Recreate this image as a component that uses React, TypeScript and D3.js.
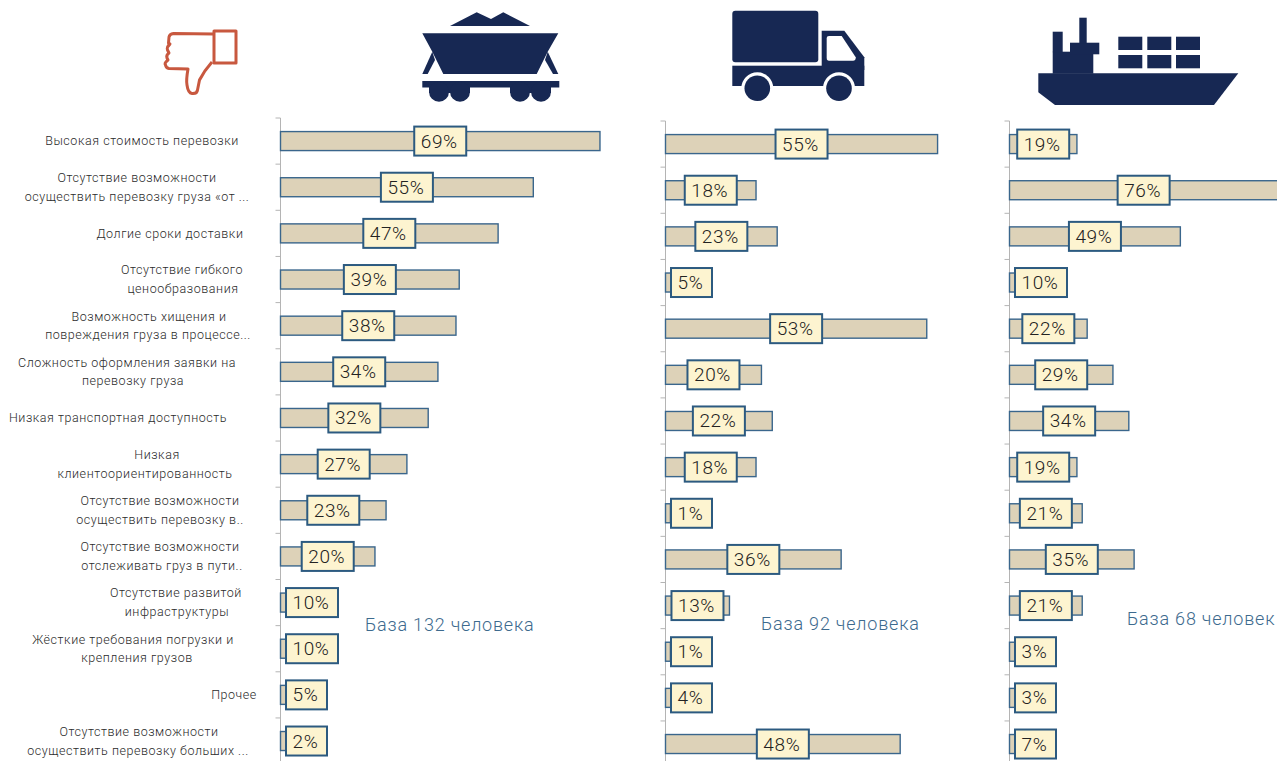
import React from "react";
import * as d3 from "d3";

const reasons: string[][] = [
  ["Высокая стоимость перевозки"],
  ["Отсутствие возможности", "осуществить перевозку груза «от ..."],
  ["Долгие сроки доставки"],
  ["Отсутствие гибкого", "ценообразования"],
  ["Возможность хищения и", "повреждения груза в процессе..."],
  ["Сложность оформления заявки на", "перевозку груза"],
  ["Низкая транспортная доступность"],
  ["Низкая", "клиентоориентированность"],
  ["Отсутствие возможности", "осуществить перевозку в.."],
  ["Отсутствие возможности", "отслеживать груз в пути.."],
  ["Отсутствие развитой", "инфраструктуры"],
  ["Жёсткие требования погрузки и", "крепления грузов"],
  ["Прочее"],
  ["Отсутствие возможности", "осуществить перевозку больших ..."],
];
const reasonCentres: number[][] = [
  [142], [137, 137], [170], [182, 183], [149, 148], [127, 133], [118],
  [157, 145], [160, 160], [160, 162], [176, 177], [133, 137], [234], [139, 138],
];

const railLabels = [69, 55, 47, 39, 38, 34, 32, 27, 23, 20, 10, 10, 5, 2];
const railValues = [69, 54.6, 47, 38.6, 37.9, 34, 31.9, 27.3, 22.8, 20.4, 10, 10, 5, 2];
const roadLabels = [55, 18, 23, 5, 53, 20, 22, 18, 1, 36, 13, 1, 4, 48];
const roadValues = [55.3, 18.4, 22.7, 5, 53.1, 19.5, 21.7, 18.4, 1, 35.7, 13, 1, 4, 47.7];
const seaLabels = [19, 76, 49, 10, 22, 29, 34, 19, 21, 35, 21, 3, 3, 7];
const seaValues = [19.1, 76, 48.4, 10, 22, 29.3, 33.8, 19.1, 20.6, 35.3, 20.6, 3, 3, 7];

const NAVY = "#172853";

type Panel = {
  labels: number[]; values: number[]; axisX: number; perCent: number; top: number;
  base: string; baseX: number; baseY: number;
};
const panels: Panel[] = [
  { labels: railLabels, values: railValues, axisX: 280.5, perCent: 4.63, top: 118, base: "База 132 человека", baseX: 365, baseY: 625 },
  { labels: roadLabels, values: roadValues, axisX: 665.5, perCent: 4.92, top: 121, base: "База 92 человека", baseX: 761, baseY: 624 },
  { labels: seaLabels, values: seaValues, axisX: 1009.5, perCent: 3.53, top: 121, base: "База 68 человек", baseX: 1127, baseY: 619 },
];
const rowStep = 46.15;
const FONT = "Roboto, sans-serif";

function PanelView({ p }: { p: Panel }) {
  const rows = d3.range(p.values.length);
  const y = d3.scaleBand<number>().domain(rows).range([p.top, p.top + rowStep * rows.length]);
  const x = d3.scaleLinear().domain([0, 100]).range([p.axisX, p.axisX + p.perCent * 100]);
  const barH = 19;
  const boxH = 29;
  return (
    <g>
      <line x1={p.axisX} x2={p.axisX} y1={p.top} y2={761} stroke="#b4b4b4" strokeWidth={1} />
      {rows.map((r) => (
        <line key={r} x1={p.axisX - 5} x2={p.axisX} y1={y(r)!} y2={y(r)!} stroke="#b4b4b4" strokeWidth={1} />
      ))}
      {rows.map((r) => {
        const cy = y(r)! + y.bandwidth() / 2;
        return (
          <rect key={r} x={p.axisX} y={cy - barH / 2} width={x(p.values[r]) - p.axisX} height={barH}
            fill="#ddd2b8" stroke="#3a668c" strokeWidth={1.4} />
        );
      })}
      {rows.map((r) => {
        const cy = y(r)! + y.bandwidth() / 2;
        const w = p.labels[r] < 10 ? 41 : 52;
        const mid = (p.axisX + x(p.values[r])) / 2;
        const cx = Math.max(mid, p.axisX + 5.5 + w / 2);
        return (
          <g key={r}>
            <rect x={cx - w / 2} y={cy - boxH / 2} width={w} height={boxH} fill="#fdf4d0" stroke="#2c5a80" strokeWidth={2} />
            <text x={cx - 1} y={cy + 6.5} textAnchor="middle" fontFamily={FONT} fontWeight={300} fontSize={19} letterSpacing={0.6} fill="#222">
              {p.labels[r]}%
            </text>
          </g>
        );
      })}
      <text x={p.baseX} y={p.baseY + 6} fontFamily={FONT} fontWeight={300} fontSize={18} letterSpacing={0.8} fill="#3d6a8e">
        {p.base}
      </text>
    </g>
  );
}

export default function App() {
  const rows = d3.range(reasons.length);
  const y = d3.scaleBand<number>().domain(rows).range([118, 118 + rowStep * rows.length]);
  return (
    <svg width={1277} height={761} style={{ position: "absolute", left: 0, top: 0, background: "#fff" }}>
      {/* thumb down */}
      <g fill="none" stroke="#c8583f" strokeWidth={3} strokeLinejoin="round">
        <path d="M214 34 L173.5 33.5 Q169.5 34 169 37 L168.5 43 L170 44 Q166.5 47 167.5 50 L169 53 Q166 55 167 58 L168 60 Q164 63 165.5 65 Q166 68 169 68.5 L188 69 Q186 80 187 85 Q188 93 192 93.5 Q197 94 197.5 90 L199.5 80 Q204 71 212 62" />
        <rect x={214} y={31} width={22} height={32} />
      </g>
      {/* coal wagon */}
      <g fill={NAVY}>
        <path d="M450 26 L476.7 12.3 L491 19 L503.3 12.3 L530 26 Z" />
        <path d="M422.3 33.3 L558.3 33.3 L547.7 51.7 L536.7 74 L443.3 74 L432.3 51.7 Z" />
        <path d="M432.3 51.7 L422.3 74 L427.7 74 L435 60 Z" />
        <path d="M547.7 51.7 L558.3 74 L553 74 L545 60 Z" />
        <rect x={422.3} y={81} width={137} height={6.5} />
        {[429, 510].map((bx) => <rect key={bx} x={bx} y={87} width={41} height={6} />)}
        {[439, 460, 520, 541].map((cx) => <circle key={cx} cx={cx} cy={91.7} r={10} />)}
      </g>
      {/* truck */}
      <g fill={NAVY}>
        <rect x={732.3} y={10.7} width={86} height={51.6} rx={3} />
        <rect x={732.3} y={65.7} width={132} height={20.3} />
        <path d="M821.7 30.7 L844.3 30.7 L864.3 57.3 L864.3 70 L821.7 70 Z" />
        <path d="M826.7 38 Q826.7 36 829 36 L841.7 36 L855.7 57.3 Q856 60.7 853 60.7 L829 60.7 Q826.7 60.7 826.7 58 Z" fill="#fff" />
        <circle cx={757.3} cy={88.3} r={16} fill="#fff" />
        <circle cx={839} cy={88.3} r={16} fill="#fff" />
        <circle cx={757.3} cy={88.3} r={12.8} />
        <circle cx={839} cy={88.3} r={12.8} />
      </g>
      {/* ship */}
      <g fill={NAVY}>
        <path d="M1038.3 73.3 L1238.3 73.3 L1214 105 L1055 105 L1038.3 92.3 Z" />
        <rect x={1052.7} y={51.7} width={40.6} height={22} />
        <rect x={1052.7} y={31.7} width={10} height={20.5} />
        <rect x={1070} y={42.7} width={29.3} height={11.6} />
        <rect x={1079.3} y={17.7} width={7.4} height={25.5} />
        {[1118.3, 1147.3, 1176].map((cx) =>
          [36.7, 55].map((cy) => <rect key={`${cx}-${cy}`} x={cx} y={cy} width={24} height={13.3} />)
        )}
      </g>

      {rows.map((r) => {
        const lines = reasons[r];
        const cy = y(r)! + y.bandwidth() / 2;
        return lines.map((line, i) => (
          <text key={`${r}-${i}`} x={reasonCentres[r][i]} y={cy + (i - (lines.length - 1) / 2) * 18.6 + 4.2}
            textAnchor="middle" fontFamily={FONT} fontWeight={300} fontSize={12.5} letterSpacing={0.55} fill="#2b2b2b">
            {line}
          </text>
        ));
      })}
      {panels.map((p, i) => <PanelView key={i} p={p} />)}
    </svg>
  );
}
